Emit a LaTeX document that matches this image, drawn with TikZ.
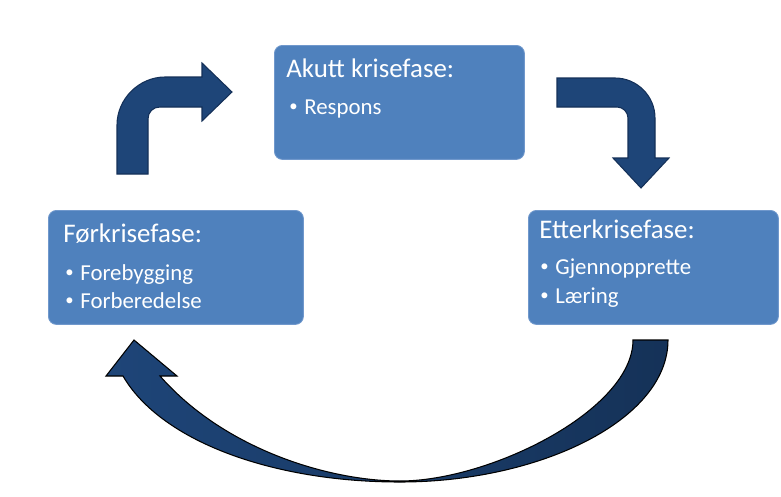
\documentclass[tikz,border=0pt]{standalone}
\usepackage{fontspec}
\setmainfont{Carlito}
\usetikzlibrary{calc}

\definecolor{boxblue}{RGB}{79,129,189}
\definecolor{boxedge}{RGB}{112,152,204}
\definecolor{arrowblue}{RGB}{30,69,120}
\definecolor{arrowedge}{RGB}{20,48,88}
\definecolor{arrowdark}{RGB}{21,50,88}

\newcommand{\punkt}{\makebox[0.3cm][l]{\raisebox{0.1em}{\fontsize{9.5}{9.5}\selectfont\textbullet}}}

\begin{document}
\begin{tikzpicture}[x=0.02cm, y=-0.02cm,
    phase/.style={rectangle, rounded corners=0.16cm, minimum height=2.28cm, anchor=north west, draw=boxedge, fill=boxblue, line width=0.5pt, inner sep=0pt},
    phasetitle/.style={anchor=base west, inner sep=0pt, text=white, font=\fontsize{15.3}{18}\selectfont},
    phaseitem/.style={anchor=base west, inner sep=0pt, text=white, font=\fontsize{13}{16}\selectfont},
    blockarrow/.style={fill=arrowblue, draw=arrowedge, line width=0.6pt}
]
\useasboundingbox (0,0) rectangle (781,497);

% Phase boxes
\node[phase, minimum width=5cm] (akutt) at (274,45) {};
\node[phase, minimum width=5.1cm] (forkrise) at (48,210) {};
\node[phase, minimum width=5cm] (etterkrise) at (528,210) {};

% Box texts
\node[phasetitle] (akuttTitle) at ([shift={(12,32)}]akutt.north west) {Akutt krisefase:};
\node[phaseitem] (akutt1) at ([shift={(15,69)}]akutt.north west) {\punkt Respons};

\node[phasetitle] (forkriseTitle) at ([shift={(15,32)}]forkrise.north west) {Førkrisefase:};
\node[phaseitem] (forkrise1) at ([shift={(17,70)}]forkrise.north west) {\punkt Forebygging};
\node[phaseitem] (forkrise2) at ([shift={(17,98)}]forkrise.north west) {\punkt Forberedelse};

\node[phasetitle] (etterkriseTitle) at ([shift={(11,28)}]etterkrise.north west) {Etterkrisefase:};
\node[phaseitem] (etterkrise1) at ([shift={(12,64)}]etterkrise.north west) {\punkt Gjennopprette};
\node[phaseitem] (etterkrise2) at ([shift={(12,93)}]etterkrise.north west) {\punkt Læring};

% Bent arrow: foer -> akutt
\draw[blockarrow] (117,174) -- (117,125) .. controls (117,99) and (139,77) .. (165,77) -- (202,77) -- (202,63) -- (232,92) -- (202,121) -- (202,107) -- (160,107) .. controls (153,107) and (148,112) .. (148,119) -- (148,174) -- cycle;

% Bent arrow: akutt -> etter
\draw[blockarrow] (557,78) -- (615,78) .. controls (637,78) and (655,96) .. (655,118) -- (655,158) -- (669,158) -- (641,188) -- (613,158) -- (628,158) -- (628,118) .. controls (628,112) and (623,107) .. (617,107) -- (557,107) -- cycle;

% Curved arrow: etter -> foer
\draw[left color=arrowblue, right color=arrowdark, draw=black, line width=0.6pt]
  (668,340) .. controls (668,420) and (540,482) .. (400,482)
  .. controls (270,482) and (160,440) .. (123,376)
  -- (106,376) -- (134,340) -- (177,376) -- (160,376)
  .. controls (225,450) and (330,481) .. (400,481)
  .. controls (490,481) and (633,410) .. (633,340) -- cycle;

\end{tikzpicture}
\end{document}
